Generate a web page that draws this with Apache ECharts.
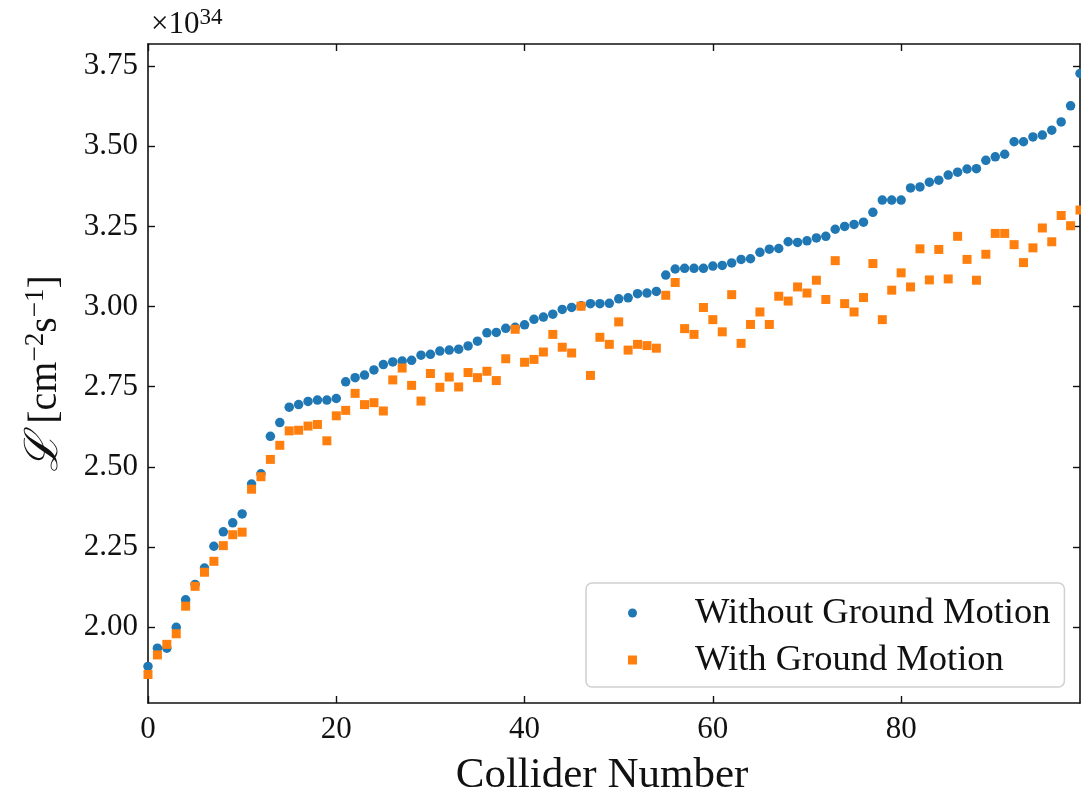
<!DOCTYPE html>
<html>
<head>
<meta charset="utf-8">
<script src="https://cdn.jsdelivr.net/npm/echarts@6/dist/echarts.min.js"></script>
<style>
  html, body { margin: 0; padding: 0; background: #fff; }
  #chart { width: 1081px; height: 790px; }
</style>
</head>
<body>
<div id="chart"></div>
<script>
// luminosity per collider, in units of 1e34 cm^-2 s^-1 (index = collider number)
const withoutGroundMotion = [
  1.877, 1.934, 1.934, 1.999, 2.085, 2.133, 2.184, 2.252, 2.297, 2.325,
  2.353, 2.446, 2.478, 2.595, 2.638, 2.686, 2.694, 2.704, 2.708, 2.708,
  2.713, 2.765, 2.778, 2.786, 2.802, 2.819, 2.827, 2.830, 2.832, 2.848,
  2.851, 2.861, 2.864, 2.867, 2.877, 2.892, 2.918, 2.919, 2.932, 2.935,
  2.943, 2.960, 2.967, 2.976, 2.991, 2.997, 3.002, 3.009, 3.009, 3.010,
  3.024, 3.027, 3.040, 3.042, 3.047, 3.098, 3.117, 3.119, 3.119, 3.119,
  3.126, 3.128, 3.136, 3.147, 3.149, 3.169, 3.179, 3.181, 3.202, 3.200,
  3.205, 3.214, 3.219, 3.241, 3.250, 3.256, 3.263, 3.294, 3.332, 3.332,
  3.332, 3.370, 3.373, 3.388, 3.394, 3.410, 3.419, 3.429, 3.430, 3.456,
  3.467, 3.475, 3.514, 3.514, 3.529, 3.535, 3.550, 3.576, 3.626, 3.727
];
const withGroundMotion = [
  1.852, 1.913, 1.946, 1.979, 2.065, 2.127, 2.171, 2.205, 2.254, 2.288,
  2.296, 2.430, 2.469, 2.523, 2.567, 2.612, 2.614, 2.627, 2.632, 2.581,
  2.659, 2.676, 2.729, 2.694, 2.700, 2.674, 2.771, 2.808, 2.754, 2.705,
  2.791, 2.748, 2.780, 2.749, 2.794, 2.778, 2.798, 2.769, 2.837, 2.929,
  2.826, 2.835, 2.858, 2.913, 2.873, 2.855, 3.001, 2.785, 2.904, 2.882,
  2.952, 2.864, 2.882, 2.878, 2.870, 3.035, 3.075, 2.931, 2.913, 2.997,
  2.959, 2.921, 3.037, 2.885, 2.944, 2.983, 2.944, 3.032, 3.017, 3.061,
  3.042, 3.082, 3.022, 3.143, 3.009, 2.983, 3.028, 3.134, 2.959, 3.051,
  3.105, 3.061, 3.180, 3.083, 3.178, 3.086, 3.219, 3.147, 3.082, 3.163,
  3.228, 3.228, 3.193, 3.137, 3.183, 3.245, 3.202, 3.284, 3.252, 3.301
];
const xTicks = [0, 20, 40, 60, 80];
const yTicks = [2.00, 2.25, 2.50, 2.75, 3.00, 3.25, 3.50, 3.75];
const seriesNames = ['Without Ground Motion', 'With Ground Motion'];

const serif = "'Liberation Serif', 'DejaVu Serif', serif";
const ink = '#111';

const chart = echarts.init(document.getElementById('chart'), null, { renderer: 'canvas' });

function frameAxis(extra) {
  return Object.assign({
    type: 'value',
    axisLine: { show: true, onZero: false, lineStyle: { color: ink, width: 1.6 } },
    splitLine: { show: false }
  }, extra);
}
function ticks(values) {
  return { show: true, inside: true, length: 7, customValues: values, lineStyle: { color: ink, width: 1.4 } };
}

const option = {
  animation: false,
  backgroundColor: '#fff',
  grid: { left: 148, right: 1, top: 44, bottom: 87, containLabel: false, outerBoundsMode: 'none' },
  xAxis: [
    frameAxis({
      min: 0, max: 99,
      axisTick: ticks(xTicks),
      axisLabel: { customValues: xTicks, margin: 11, fontFamily: serif, fontSize: 31, color: ink },
      name: 'Collider Number', nameLocation: 'middle', nameGap: 51,
      nameTextStyle: { fontFamily: serif, fontSize: 43, color: ink, padding: [0, 24, 0, 0] }
    }),
    frameAxis({
      position: 'top', min: 0, max: 99,
      axisTick: ticks(xTicks),
      axisLabel: { show: false }
    })
  ],
  yAxis: [
    frameAxis({
      min: 1.763, max: 3.819,
      axisTick: ticks(yTicks),
      axisLabel: { customValues: yTicks, margin: 10, fontFamily: serif, fontSize: 31, color: ink,
        formatter: v => v.toFixed(2) },
      name: '{l|ℒ} [cm{s|−2}s{s|−1}]', nameLocation: 'middle', nameRotate: 90, nameGap: 80,
      nameTextStyle: {
        fontFamily: serif, fontSize: 40, color: ink,
        rich: {
          l: { fontFamily: serif, fontSize: 46, fontStyle: 'italic', color: ink },
          s: { fontFamily: serif, fontSize: 27, color: ink, verticalAlign: 'top', padding: [0, 0, 16, 0] }
        }
      }
    }),
    frameAxis({
      position: 'right', min: 1.763, max: 3.819,
      axisTick: ticks(yTicks),
      axisLabel: { show: false }
    })
  ],
  legend: {
    orient: 'vertical',
    left: 586, top: 583,
    padding: [11, 14, 8, 42],
    itemGap: 9,
    itemWidth: 9, itemHeight: 9,
    backgroundColor: 'rgba(255,255,255,0.8)',
    borderColor: '#d0d0d0', borderWidth: 1.5, borderRadius: 6,
    textStyle: { fontFamily: serif, fontSize: 36.5, color: ink, lineHeight: 38, padding: [0, 0, 0, 53] },
    data: [
      { name: seriesNames[0], icon: 'circle' },
      { name: seriesNames[1], icon: 'rect' }
    ]
  },
  graphic: [{
    type: 'text', left: 151, top: 6,
    style: {
      text: '{a|×10}{b|34}',
      rich: {
        a: { fontFamily: serif, fontSize: 31, fill: ink, verticalAlign: 'bottom', lineHeight: 34 },
        b: { fontFamily: serif, fontSize: 23, fill: ink, verticalAlign: 'top', lineHeight: 34 }
      }
    }
  }],
  series: [
    {
      name: seriesNames[0], type: 'scatter', xAxisIndex: 0, yAxisIndex: 0,
      symbol: 'circle', symbolSize: 9.5,
      itemStyle: { color: '#1f77b4', opacity: 1 },
      data: withoutGroundMotion.map((v, i) => [i, v])
    },
    {
      name: seriesNames[1], type: 'scatter', xAxisIndex: 0, yAxisIndex: 0,
      symbol: 'rect', symbolSize: 9,
      itemStyle: { color: '#ff7f0e', opacity: 1 },
      data: withGroundMotion.map((v, i) => [i, v])
    }
  ]
};

chart.setOption(option);
</script>
</body>
</html>
